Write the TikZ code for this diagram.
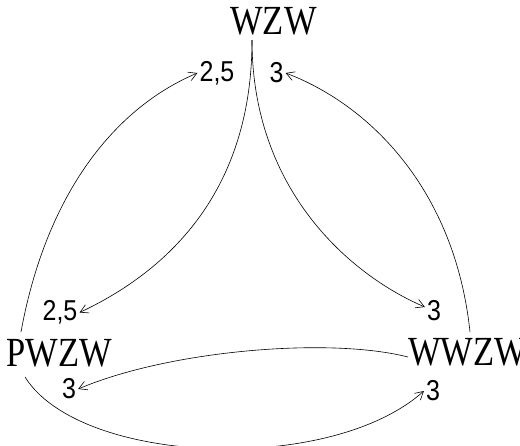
\documentclass[tikz,border=0pt]{standalone}
\usepackage{fontspec}
\usepackage{graphicx}
\setmainfont{Liberation Serif}
\newfontfamily\lblfont{Liberation Sans}
\usetikzlibrary{arrows.meta}
\tikzset{
  state/.style={inner sep=0pt, font=\fontsize{34.5}{38}\selectfont},
  wlabel/.style={inner sep=2pt, font=\lblfont\fontsize{25}{28}\selectfont},
  edge/.style={line width=0.6pt, -{Straight Barb[length=8pt,width=9pt,line width=0.6pt]}}
}
\newcommand{\stxt}[1]{\scalebox{1}[1.2]{#1}}
\newcommand{\ltxt}[1]{\scalebox{1}[1.15]{#1}}
\begin{document}
\begin{tikzpicture}[x=1pt,y=-1pt]
\useasboundingbox (0,0) rectangle (520,445);
% states
\node[state] (wzw) at (273.5,21.5) {\stxt{WZW}};
\node[state] (pwzw) at (59.5,353.5) {\stxt{PWZW}};
\node[state, anchor=west] (wwzw) at (408,352.5) {\stxt{WWZW}};
% connector end points on the states
\coordinate (wzwb) at (252,40);
\coordinate (pwzwt) at (21,332);
\coordinate (pwzwb) at (25,377);
\coordinate (wwzwt) at (470,332);
\coordinate (wwzwl) at (408,357);
% labels
\node[wlabel] (lt25) at (217,73) {\ltxt{2,5}};
\node[wlabel] (lt3) at (276.5,73) {\ltxt{3}};
\node[wlabel] (lp25) at (60,312.5) {\ltxt{2,5}};
\node[wlabel] (lw3) at (434,311) {\ltxt{3}};
\node[wlabel] (lp3) at (69,389) {\ltxt{3}};
\node[wlabel] (lw3b) at (433,391) {\ltxt{3}};
% edges
\draw[edge] (wzwb) .. controls (252,190) and (170,270) .. (lp25.east);
\draw[edge] (wzwb) .. controls (252,190) and (350,275) .. ([yshift=4pt]lw3.west);
\draw[edge] (pwzwt) .. controls (45,200) and (110,110) .. (lt25.west);
\draw[edge] (wwzwt) .. controls (455,190) and (370,105) .. (lt3.east);
\draw[edge] (wwzwl) .. controls (330,337) and (170,350) .. (lp3.east);
\draw[edge] (pwzwb) .. controls (80,465) and (330,475) .. (lw3b.west);
\end{tikzpicture}
\end{document}
